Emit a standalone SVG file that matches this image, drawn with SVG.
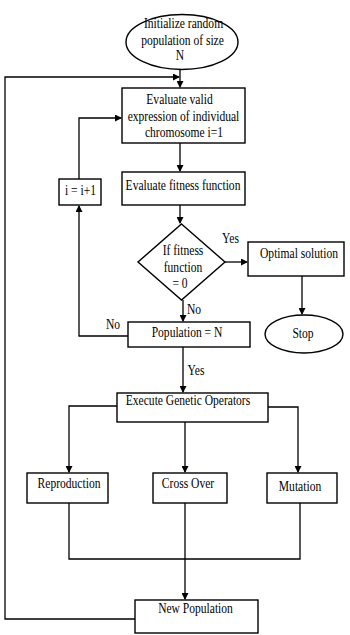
<svg xmlns="http://www.w3.org/2000/svg" width="350" height="635" viewBox="0 0 350 635">
<defs>
<marker id="ah" markerWidth="7" markerHeight="7" refX="6" refY="3.5" orient="auto" markerUnits="userSpaceOnUse">
<path d="M0,0 L7,3.5 L0,7 z" fill="#000"/>
</marker>
<style>
.n{fill:#fff;stroke:#000;stroke-width:1.4}
.t{font-family:"Liberation Serif","Times New Roman",serif;font-size:13.6px;fill:#000;text-anchor:middle}
.c{fill:none;stroke:#000;stroke-width:1.3}
</style>
</defs>
<rect width="350" height="635" fill="#fff"/>
<g id="connectors">
<path class="c" d="M180,70 V87" marker-end="url(#ah)"/>
<path class="c" d="M135,619 H5 V77 H179" marker-end="url(#ah)"/>
<path class="c" d="M180,143 V171" marker-end="url(#ah)"/>
<path class="c" d="M180,205 V223" marker-end="url(#ah)"/>
<path class="c" d="M225,262 H247" marker-end="url(#ah)"/>
<path class="c" d="M302,276 V314" marker-end="url(#ah)"/>
<path class="c" d="M183,300 V321" marker-end="url(#ah)"/>
<path class="c" d="M128,336 H79 V206" marker-end="url(#ah)"/>
<path class="c" d="M79,179 V118 H121" marker-end="url(#ah)"/>
<path class="c" d="M183,347 V392" marker-end="url(#ah)"/>
<path class="c" d="M117,406 H69 V472" marker-end="url(#ah)"/>
<path class="c" d="M185,422 V472" marker-end="url(#ah)"/>
<path class="c" d="M268,407 H298 V472" marker-end="url(#ah)"/>
<path class="c" d="M69,503 V559 H300 V503"/>
<path class="c" d="M185,503 V599" marker-end="url(#ah)"/>
<text class="t" transform="translate(230.5,243) scale(0.85,1)">Yes</text>
<text class="t" transform="translate(194,314) scale(0.85,1)">No</text>
<text class="t" transform="translate(113,329) scale(0.85,1)">No</text>
<text class="t" transform="translate(196,375) scale(0.85,1)">Yes</text>
</g>
<g id="init">
<ellipse class="n" cx="182" cy="42" rx="56" ry="27.5"/>
<text class="t" transform="translate(183.5,28) scale(0.85,1)">Initialize random</text>
<text class="t" transform="translate(182.5,45) scale(0.85,1)">population of size</text>
<text class="t" transform="translate(180,60) scale(0.85,1)">N</text>
</g>
<g id="evalvalid">
<rect class="n" x="122" y="88" width="123" height="55"/>
<text class="t" transform="translate(179.5,104) scale(0.85,1)">Evaluate valid</text>
<text class="t" transform="translate(183.5,121) scale(0.85,1)">expression of individual</text>
<text class="t" transform="translate(184,137) scale(0.85,1)">chromosome i=1</text>
</g>
<g id="fitness">
<rect class="n" x="122" y="172" width="123" height="33"/>
<text class="t" transform="translate(183,190) scale(0.85,1)">Evaluate fitness function</text>
</g>
<g id="incr">
<rect class="n" x="59" y="179" width="42" height="26"/>
<text class="t" transform="translate(80.5,195) scale(0.85,1)">i = i+1</text>
</g>
<g id="decision">
<polygon class="n" points="181.5,224 225,262 181.5,300 138,262"/>
<text class="t" transform="translate(183,255) scale(0.85,1)">If fitness</text>
<text class="t" transform="translate(183,272) scale(0.85,1)">function</text>
<text class="t" transform="translate(180,288) scale(0.85,1)">= 0</text>
</g>
<g id="optimal">
<rect class="n" x="248" y="242" width="96" height="34"/>
<text class="t" transform="translate(299,258) scale(0.85,1)">Optimal solution</text>
</g>
<g id="stop">
<ellipse class="n" cx="304" cy="334" rx="39" ry="19"/>
<text class="t" transform="translate(303,338) scale(0.85,1)">Stop</text>
</g>
<g id="population">
<rect class="n" x="128" y="322" width="122" height="25"/>
<text class="t" transform="translate(187,337) scale(0.85,1)">Population = N</text>
</g>
<g id="execute">
<rect class="n" x="117" y="393" width="151" height="29"/>
<text class="t" transform="translate(188,405) scale(0.85,1)">Execute Genetic Operators</text>
</g>
<g id="reproduction">
<rect class="n" x="27" y="473" width="81" height="30"/>
<text class="t" transform="translate(69,488) scale(0.85,1)">Reproduction</text>
</g>
<g id="crossover">
<rect class="n" x="153" y="473" width="74" height="30"/>
<text class="t" transform="translate(188,488) scale(0.85,1)">Cross Over</text>
</g>
<g id="mutation">
<rect class="n" x="267" y="473" width="70" height="30"/>
<text class="t" transform="translate(300,491) scale(0.85,1)">Mutation</text>
</g>
<g id="newpop">
<rect class="n" x="135" y="600" width="123" height="33"/>
<text class="t" transform="translate(195.5,613) scale(0.85,1)">New Population</text>
</g>
</svg>
